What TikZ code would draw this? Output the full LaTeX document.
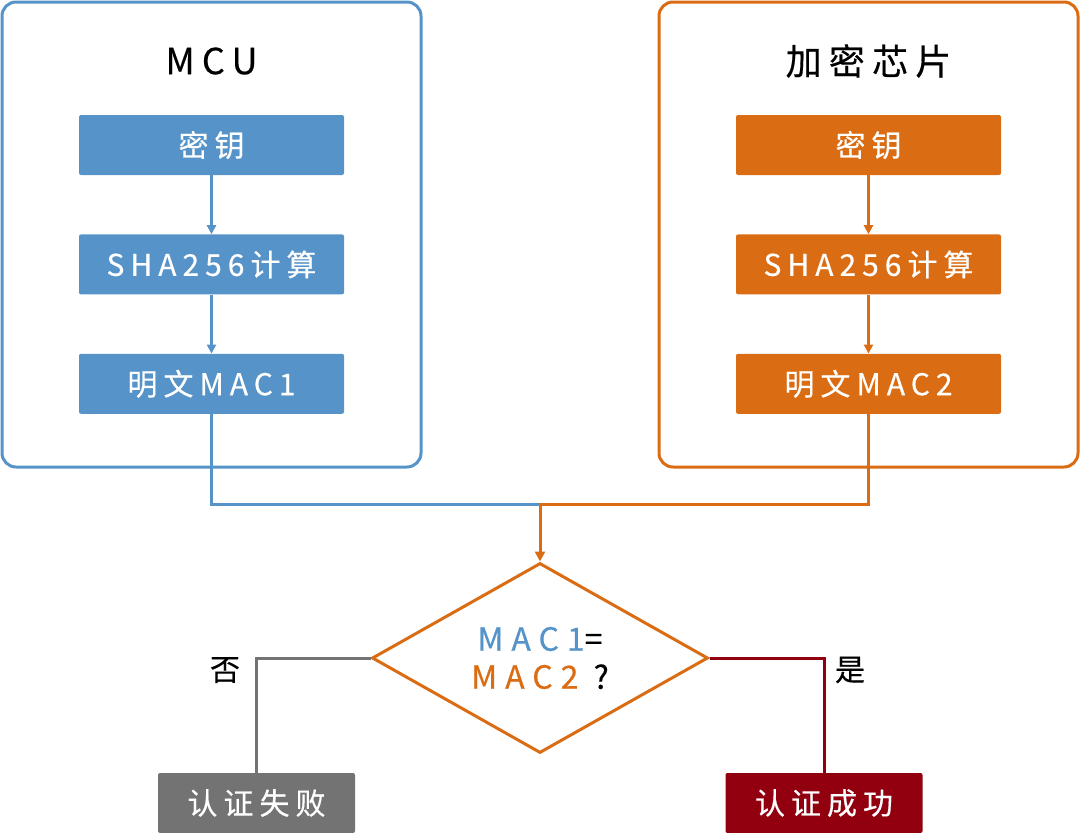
\documentclass[tikz,border=0pt]{standalone}
\usepackage{fontspec}
\setmainfont{Noto Sans CJK SC}[LetterSpace=20,FakeBold=0.4]
\usetikzlibrary{positioning,shapes.geometric,arrows.meta}
\definecolor{mcublue}{HTML}{5593C8}
\definecolor{chiporange}{HTML}{DA6C13}
\definecolor{failgray}{HTML}{737373}
\definecolor{okred}{HTML}{920010}
\tikzset{
    panel/.style={draw,line width=3pt,rounded corners=14pt},
    keybox/.style={rounded corners=2pt,minimum width=265pt,minimum height=60pt,
        text=white,font=\fontsize{30}{32}\selectfont,inner sep=0pt},
    endbox/.style={keybox,minimum width=197pt},
    flow/.style={line width=2.5pt,-{Triangle[length=9pt,width=9pt]}},
    link/.style={line width=3pt},
}
\begin{document}
\begin{tikzpicture}[x=1pt,y=-1pt]
    \useasboundingbox (0,0) rectangle (1080,833);
    % the two sides
    \draw[panel,mcublue] (2,2) rectangle (421,467);
    \draw[panel,chiporange] (659,2) rectangle (1078,467);
    \node[font=\fontsize{36}{38}\selectfont] (mcutitle) at (211.5,61) {MCU};
    \node[font=\fontsize{36}{38}\selectfont] (chiptitle) at (868.5,61) {加密芯片};

    \node[keybox,fill=mcublue] (mkey) at (211.5,145) {密钥};
    \node[keybox,fill=mcublue,below=59pt of mkey] (msha) {SHA256计算};
    \node[keybox,fill=mcublue,below=59pt of msha] (mmac) {明文MAC1};
    \draw[flow,mcublue] (mkey) -- (msha);
    \draw[flow,mcublue] (msha) -- (mmac);

    \node[keybox,fill=chiporange] (ckey) at (868.5,145) {密钥};
    \node[keybox,fill=chiporange,below=59pt of ckey] (csha) {SHA256计算};
    \node[keybox,fill=chiporange,below=59pt of csha] (cmac) {明文MAC2};
    \draw[flow,chiporange] (ckey) -- (csha);
    \draw[flow,chiporange] (csha) -- (cmac);

    % compare
    \coordinate (merge) at (540,504);
    \node[diamond,draw=chiporange,line width=3pt,minimum width=336pt,minimum height=190pt,
        inner sep=-25pt,align=center,font=\fontsize{32}{38}\selectfont\addfontfeature{LetterSpace=25}] (check) at (540,658)
        {\textcolor{mcublue}{MAC1}=\\\textcolor{chiporange}{MAC2} ?};
    \draw[link,mcublue] (mmac.south) |- (merge);
    \draw[link,chiporange] (cmac.south) |- (merge);
    \draw[link,chiporange,-{Triangle[length=10pt,width=10pt]}] (merge) -- (check.north);

    \node[endbox,fill=failgray] (fail) at (256.5,803) {认证失败};
    \node[endbox,fill=okred] (ok) at (824,803) {认证成功};
    \draw[link,failgray] (check.west) -| (fail.north);
    \draw[link,okred] (check.east) -| (ok.north);
    \node[font=\fontsize{30}{32}\selectfont] (no) at (225,670) {否};
    \node[font=\fontsize{30}{32}\selectfont] (yes) at (850,670) {是};
\end{tikzpicture}
\end{document}
